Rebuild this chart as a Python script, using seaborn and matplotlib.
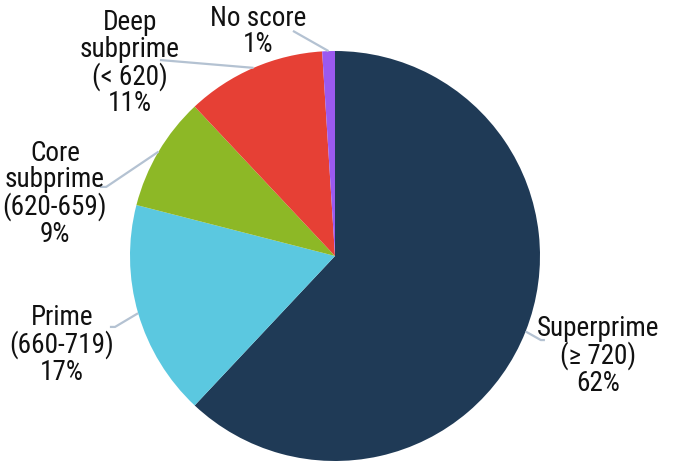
import numpy as np
import matplotlib
matplotlib.use("Agg")
import matplotlib.pyplot as plt
import seaborn as sns
from matplotlib import font_manager
from matplotlib.font_manager import FontProperties

sns.set_theme(style="white")
plt.rcParams["font.family"] = ["Roboto", "DejaVu Sans"]

# pick a condensed face if one is installed
fonts = font_manager.fontManager.ttflist
chosen = None
for key in ["RobotoCondensed-Regular", "LiberationSansNarrow-Regular", "DejaVuSansCondensed.ttf"]:
    for f in fonts:
        if key in f.fname:
            chosen = f.fname
            break
    if chosen:
        break

# ---- data ----
categories = ["Superprime\n(≥ 720)", "Prime\n(660-719)", "Core\nsubprime\n(620-659)",
              "Deep\nsubprime\n(< 620)", "No score"]
values = [62, 17, 9, 11, 1]
colors = ["#1F3A56", "#5BC8E0", "#8DB826", "#E64035", "#9B59F0"]

# label layout (data coords, radius = 1)
text_pos = [(1.285, -0.488), (-1.332, -0.434), (-1.366, 0.303), (-1.0, 0.94), (-0.376, 1.095)]
leader_end = [(1.024, -0.410), (-1.098, -0.346), (-1.146, 0.337), (-0.854, 0.956), (-0.205, 1.098)]
stub = [(-0.02, 0.0), (0.025, 0.0), (0.03, 0.0), (0.0, 0.0), (0.0, 0.0)]

fig = plt.figure(figsize=(6.75, 4.61), dpi=100)
cx, cy, r = 335, 461 - 256, 205
ax = fig.add_axes([(cx - r) / 675, (cy - r) / 461, 2 * r / 675, 2 * r / 461])

wedges, _ = ax.pie(values, colors=colors, startangle=90, counterclock=False,
                   radius=1, wedgeprops=dict(linewidth=0))
ax.set_xlim(-1, 1)
ax.set_ylim(-1, 1)
ax.set_aspect("equal")
ax.axis("off")

if chosen:
    fp = FontProperties(fname=chosen, size=19.5)
else:
    fp = FontProperties(family="Roboto", size=17)

line_color = "#B4C2D2"
for w, cat, v, tp, le, st in zip(wedges, categories, values, text_pos, leader_end, stub):
    mid = np.deg2rad((w.theta1 + w.theta2) / 2)
    ex, ey = np.cos(mid), np.sin(mid)
    xs = [ex, le[0] + st[0], le[0]]
    ys = [ey, le[1] + st[1], le[1]]
    ax.plot(xs, ys, color=line_color, lw=1.6, clip_on=False, solid_capstyle="butt")
    ax.text(tp[0], tp[1], f"{cat}\n{v}%", ha="center", va="center", fontproperties=fp,
            linespacing=0.97, color="#111111", clip_on=False)

fig.savefig("out.png", dpi=100)
